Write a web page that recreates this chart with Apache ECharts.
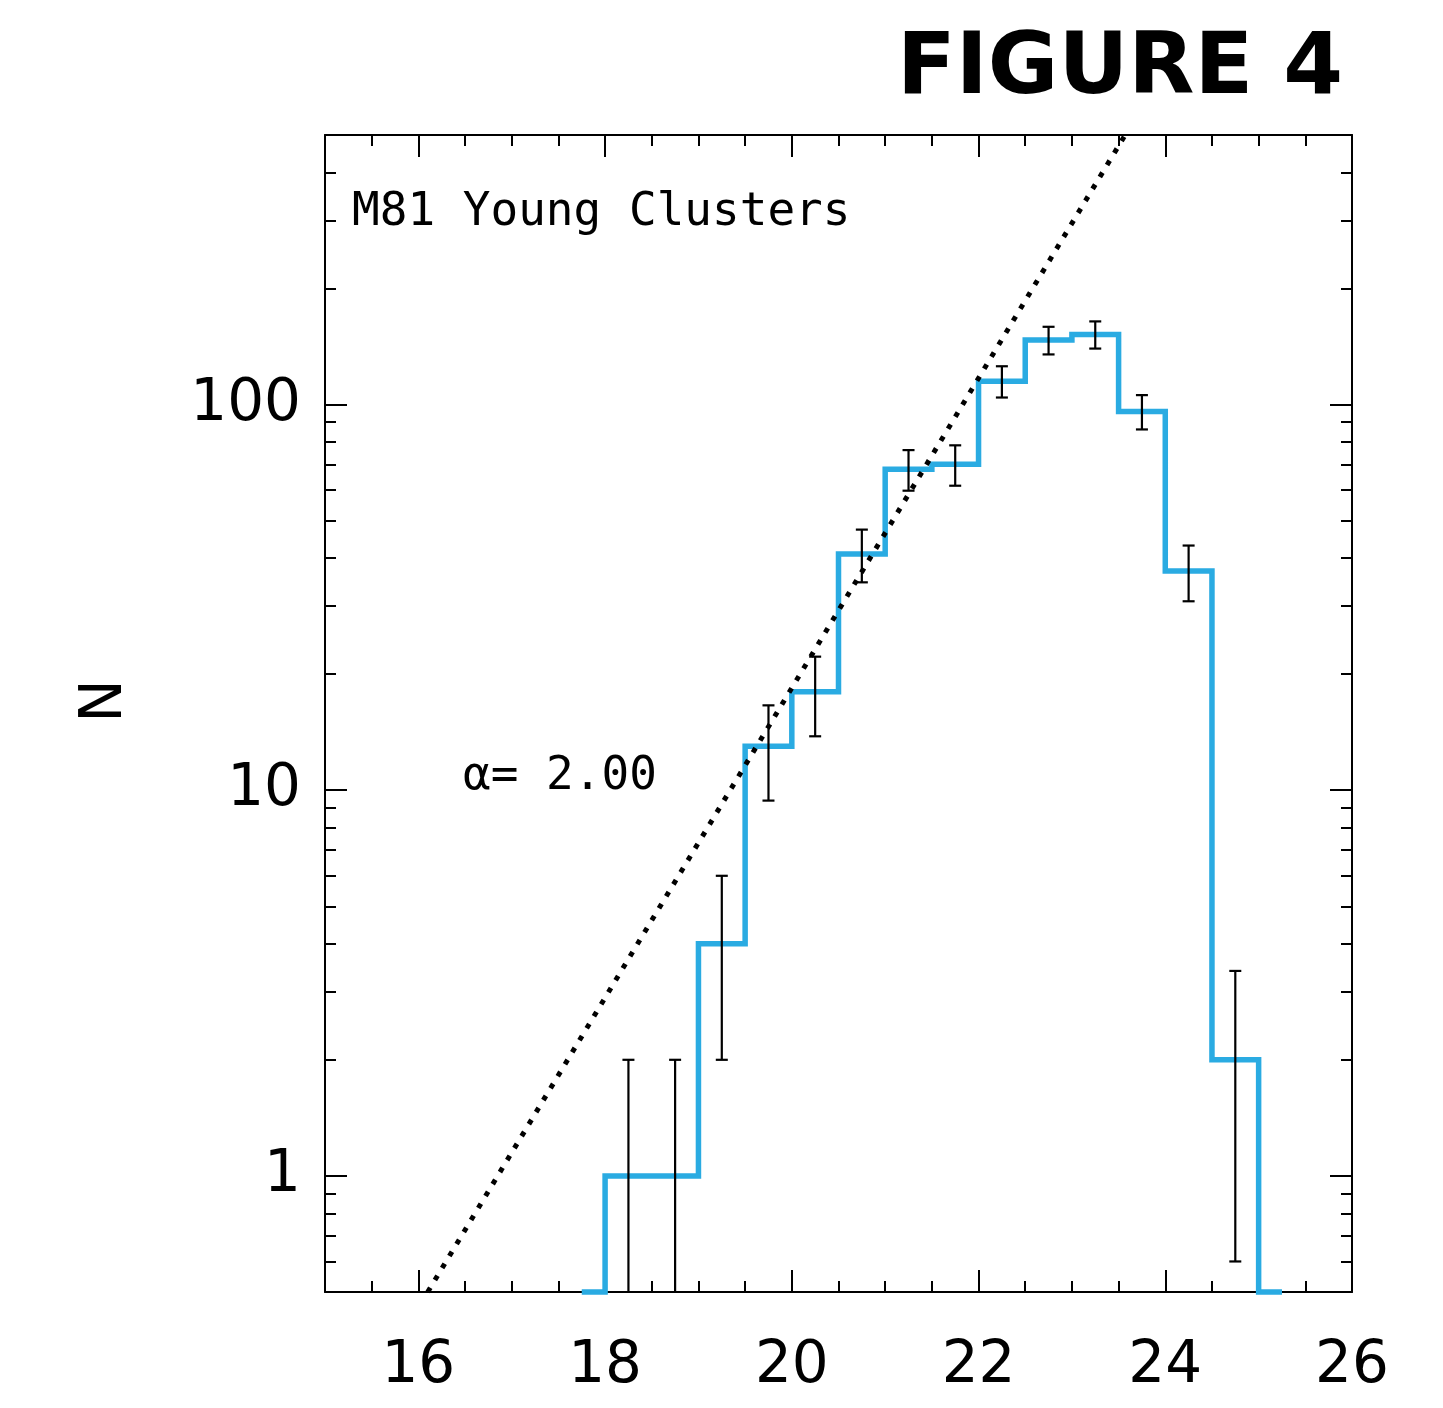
<!DOCTYPE html>
<html>
<head>
<meta charset="utf-8">
<script src="https://cdn.jsdelivr.net/npm/echarts@6/dist/echarts.min.js"></script>
<style>
html,body{margin:0;padding:0;background:#fff;}
#c{width:1443px;height:1408px;}
</style>
</head>
<body>
<div id="c"></div>
<script>
// ---- data ----
const X_MIN = 15, X_MAX = 26;
const Y_MIN = 0.5, Y_MAX = 500;
const xTickLabels = [16, 18, 20, 22, 24, 26];
const yTickLabels = [1, 10, 100];
const yMinorTicks = [0.6, 0.7, 0.8, 0.9, 2, 3, 4, 5, 6, 7, 8, 9, 20, 30, 40, 50, 60, 70, 80, 90, 200, 300, 400];
const binCenters = [17.75, 18.25, 18.75, 19.25, 19.75, 20.25, 20.75, 21.25, 21.75, 22.25, 22.75, 23.25, 23.75, 24.25, 24.75, 25.25];
const counts     = [0, 1, 1, 4, 13, 18, 41, 68, 70, 115, 147, 152, 96, 37, 2, 0];
const errCenters = [18.25, 18.75, 19.25, 19.75, 20.25, 20.75, 21.25, 21.75, 22.25, 22.75, 23.25, 23.75, 24.25, 24.75];
const errValues  = [1, 1, 2, 3.6, 4.2, 6.4, 8.2, 8.4, 10.7, 12.1, 12.3, 9.8, 6.1, 1.4];
const powerLawX = [16.1, 23.57];
const powerLawN = [0.5, 500];
const titleText = 'FIGURE 4';
const panelLabel = 'M81 Young Clusters';
const alphaLabel = '\u03B1= 2.00';
const yName = 'N';

// ---- chart ----
const chart = echarts.init(document.getElementById('c'), null, {renderer: 'canvas'});
const FONT = '"DejaVu Sans", "Liberation Sans", sans-serif';
const MONO = '"DejaVu Sans Mono", "Liberation Mono", monospace';
const BLACK = '#000';

function xAxisDef(pos, major) {
  return {
    type: 'value', min: X_MIN, max: X_MAX, position: pos,
    interval: major ? undefined : 0.5,
    axisLine: {show: major, onZero: false, lineStyle: {color: BLACK, width: 2}},
    axisTick: major
      ? {show: true, inside: true, length: 22, customValues: xTickLabels, lineStyle: {color: BLACK, width: 2}}
      : {show: true, inside: true, length: 11, lineStyle: {color: BLACK, width: 2}},
    axisLabel: (major && pos === 'bottom')
      ? {show: true, customValues: xTickLabels, margin: 46, color: BLACK, fontFamily: FONT, fontSize: 58, lineHeight: 58}
      : {show: false},
    splitLine: {show: false}
  };
}
function yAxisDef(pos, major) {
  return {
    type: 'log', logBase: 10, min: Y_MIN, max: Y_MAX, position: pos,
    axisLine: {show: major, onZero: false, lineStyle: {color: BLACK, width: 2}},
    axisTick: major
      ? {show: true, inside: true, length: 22, lineStyle: {color: BLACK, width: 2}}
      : {show: true, inside: true, length: 11, customValues: yMinorTicks, lineStyle: {color: BLACK, width: 2}},
    axisLabel: (major && pos === 'left')
      ? {show: true, showMinLabel: false, showMaxLabel: false, margin: 24, color: BLACK, fontFamily: FONT, fontSize: 58,
         padding: [8, 0, 0, 0],
         formatter: function (v) { return String(Math.round(v * 1000) / 1000); }}
      : {show: false},
    splitLine: {show: false}
  };
}

const histData = binCenters.map((x, i) => [x, Math.max(counts[i], Y_MIN)]);
const errData = errCenters.map((x, i) => [x, counts[binCenters.indexOf(x)], errValues[i]]);
const lineData = powerLawX.map((x, i) => [x, powerLawN[i]]);

const option = {
  animation: false,
  backgroundColor: '#fff',
  grid: {left: 325, top: 135, width: 1027, height: 1157, containLabel: false},
  xAxis: [xAxisDef('bottom', true), xAxisDef('bottom', false), xAxisDef('top', true), xAxisDef('top', false)],
  yAxis: [yAxisDef('left', true), yAxisDef('left', false), yAxisDef('right', true), yAxisDef('right', false)],
  series: [
    {
      type: 'line', xAxisIndex: 0, yAxisIndex: 0, step: 'middle', data: histData,
      symbol: 'none', clip: false, z: 2,
      lineStyle: {color: '#2AABE2', width: 5.5, join: 'miter', cap: 'butt'}
    },
    {
      type: 'custom', xAxisIndex: 0, yAxisIndex: 0, data: errData, z: 4, clip: false,
      encode: {x: 0, y: 1},
      renderItem: function (params, api) {
        const x = api.value(0), n = api.value(1), e = api.value(2);
        const hi = n + e;
        let lo = n - e;
        const loClipped = lo < Y_MIN;
        if (loClipped) lo = Y_MIN;
        const pHi = api.coord([x, hi]);
        const pLo = api.coord([x, lo]);
        const cw = 6;
        const st = {stroke: BLACK, lineWidth: 2.2};
        const children = [
          {type: 'line', shape: {x1: pHi[0], y1: pHi[1], x2: pLo[0], y2: pLo[1]}, style: st},
          {type: 'line', shape: {x1: pHi[0] - cw, y1: pHi[1], x2: pHi[0] + cw, y2: pHi[1]}, style: st}
        ];
        if (!loClipped) {
          children.push({type: 'line', shape: {x1: pLo[0] - cw, y1: pLo[1], x2: pLo[0] + cw, y2: pLo[1]}, style: st});
        }
        return {type: 'group', children: children};
      }
    },
    {
      type: 'line', xAxisIndex: 0, yAxisIndex: 0, data: lineData, symbol: 'none', clip: false, z: 5,
      lineStyle: {color: BLACK, width: 5, type: [5, 9], cap: 'butt'}
    }
  ],
  graphic: [
    {type: 'text', x: 1343, y: 71, z: 10,
     style: {text: titleText, font: 'bold 86px ' + FONT, fill: BLACK, align: 'right', verticalAlign: 'middle', textAlign: 'right', textVerticalAlign: 'middle'}},
    {type: 'text', x: 352, y: 213, z: 10,
     style: {text: panelLabel, font: '46px ' + MONO, fill: BLACK, align: 'left', verticalAlign: 'middle', textAlign: 'left', textVerticalAlign: 'middle'}},
    {type: 'text', x: 463, y: 777, z: 10,
     style: {text: alphaLabel, font: '46px ' + MONO, fill: BLACK, align: 'left', verticalAlign: 'middle', textAlign: 'left', textVerticalAlign: 'middle'}},
    {type: 'text', x: 106, y: 701, rotation: Math.PI / 2, z: 10,
     style: {text: yName, font: '58px ' + FONT, fill: BLACK, align: 'center', verticalAlign: 'middle', textAlign: 'center', textVerticalAlign: 'middle'}}
  ]
};
chart.setOption(option);
</script>
</body>
</html>
